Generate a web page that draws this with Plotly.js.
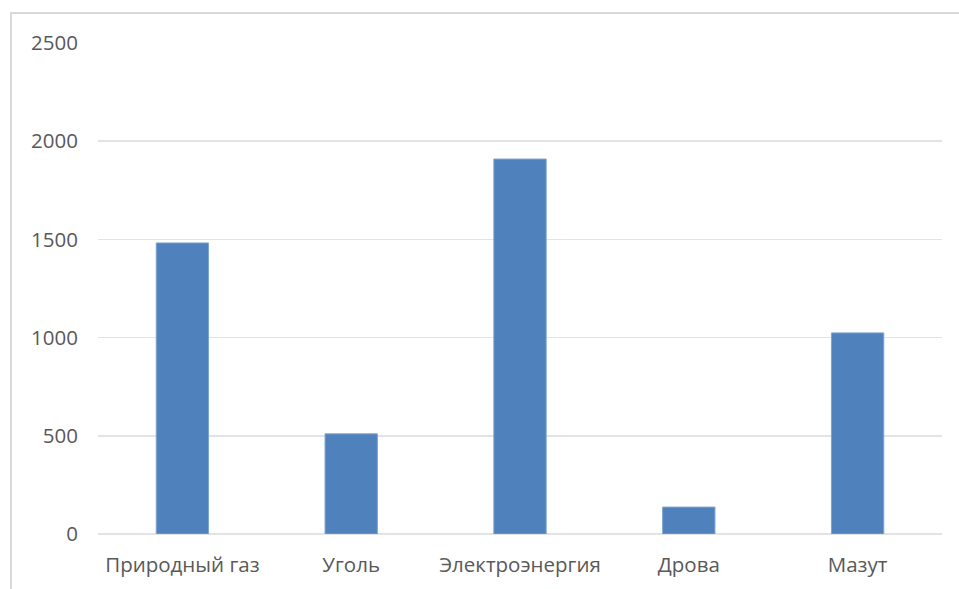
<!DOCTYPE html>
<html>
<head>
<meta charset="utf-8">
<script src="https://cdn.plot.ly/plotly-3.0.1.min.js"></script>
<style>
  html, body { margin: 0; padding: 0; background: #ffffff; }
  #wrap { position: relative; width: 959px; height: 589px; overflow: hidden; }
  #chart { width: 959px; height: 589px; }
  #frame {
    position: absolute; left: 10px; top: 12px; width: 2000px; height: 2000px;
    border-left: 2px solid #d9d9d9; border-top: 2px solid #d9d9d9;
    pointer-events: none;
  }
</style>
</head>
<body>
<div id="wrap">
  <div id="chart"></div>
  <div id="frame"></div>
</div>
<script>
// Energy sources and their consumption values
const categories = ['Природный газ', 'Уголь', 'Электроэнергия', 'Дрова', 'Мазут'];
const values = [1482, 510, 1909, 137, 1024];
const yTicks = [0, 500, 1000, 1500, 2000, 2500];

const textColor = '#595959';
const gridColor = '#e3e3e3';
const fontFamily = '"Open Sans", "Noto Sans", sans-serif';
const fontSize = 20.5;

const trace = {
  type: 'bar',
  x: categories,
  y: values,
  marker: {
    color: '#4f81bd',
    line: { color: '#7ea3d0', width: 1 }
  },
  hoverinfo: 'x+y'
};

const layout = {
  width: 959,
  height: 589,
  margin: { l: 98, r: 17, t: 42.5, b: 55 },
  paper_bgcolor: '#ffffff',
  plot_bgcolor: '#ffffff',
  showlegend: false,
  bargap: 0.69,
  font: { family: fontFamily, size: fontSize, color: textColor },
  xaxis: {
    type: 'category',
    showgrid: false,
    zeroline: false,
    showline: false,
    ticks: 'outside',
    ticklen: 12,
    tickcolor: 'rgba(0,0,0,0)',
    tickfont: { family: fontFamily, size: fontSize, color: textColor }
  },
  yaxis: {
    range: [0, 2500],
    tickvals: yTicks,
    ticktext: yTicks.map(String),
    showgrid: true,
    gridcolor: gridColor,
    gridwidth: 1.5,
    zeroline: true,
    zerolinecolor: gridColor,
    zerolinewidth: 1.5,
    showline: false,
    ticks: 'outside',
    ticklen: 15,
    tickcolor: 'rgba(0,0,0,0)',
    tickfont: { family: fontFamily, size: fontSize, color: textColor }
  }
};

Plotly.newPlot('chart', [trace], layout, { displayModeBar: false, staticPlot: true });
</script>
</body>
</html>
